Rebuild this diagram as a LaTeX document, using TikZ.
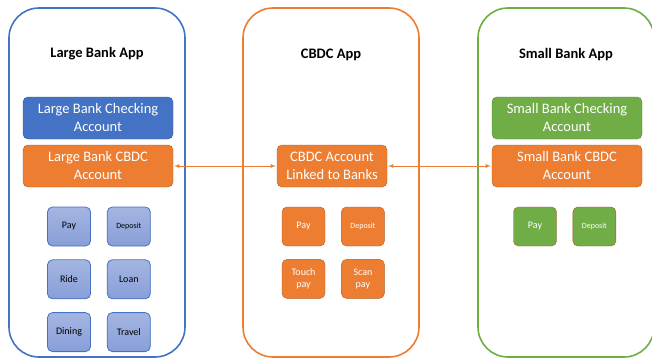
\documentclass[tikz,border=0pt]{standalone}
\usepackage{fontspec}
\setmainfont{Carlito}
\usetikzlibrary{positioning}
\definecolor{appblue}{HTML}{4472C4}
\definecolor{apporange}{HTML}{ED7D31}
\definecolor{appgreen}{HTML}{70AD47}
\definecolor{btnblue}{HTML}{8FA3DA}
\tikzset{
    app/.style={draw, line width=1.6pt, rounded corners=30pt, minimum width=176pt, minimum height=349pt},
    title/.style={font=\fontsize{14.5}{16}\selectfont\bfseries},
    acct/.style={rounded corners=5pt, minimum width=150pt, minimum height=42pt, text=white, align=center, font=\fontsize{14.5}{18}\selectfont},
    btn/.style={rounded corners=5pt, minimum width=43pt, minimum height=39pt, align=center, font=\fontsize{10}{11.5}\selectfont},
    bluebtn/.style={btn, draw=appblue, line width=0.8pt, top color=btnblue!80!white, bottom color=btnblue!90!appblue},
    link/.style={<->, >=latex, apporange, line width=0.8pt, shorten <=1pt, shorten >=1pt}
}

\begin{document}
\begin{tikzpicture}[x=1pt, y=-1pt, node distance=13pt and 16pt]
    \useasboundingbox (0,0) rectangle (652,359);

    % containers
    \node[app, draw=appblue] (large) at (97,182.5) {};
    \node[app, draw=apporange] (cbdc) at (331,182.5) {};
    \node[app, draw=appgreen] (small) at (566,182.5) {};

    \node[title] (ltitle) at (97,54) {Large Bank App};
    \node[title] (mtitle) at (331,55) {CBDC App};
    \node[title] (rtitle) at (566,55) {Small Bank App};

    % accounts
    \node[acct, fill=appblue, draw=appblue!75!black] (lchk) at (98,118) {Large Bank Checking\\Account};
    \node[acct, fill=apporange, draw=apporange!75!black] (lcbdc) at (98,166) {Large Bank CBDC\\Account};
    \node[acct, fill=apporange, draw=apporange!75!black, minimum width=110pt] (mcbdc) at (332,166) {CBDC Account\\Linked to Banks};
    \node[acct, fill=appgreen, draw=appgreen!75!black] (rchk) at (567,118) {Small Bank Checking\\Account};
    \node[acct, fill=apporange, draw=apporange!75!black] (rcbdc) at (567,166) {Small Bank CBDC\\Account};

    % large bank buttons
    \node[bluebtn] (lpay) at (69,226.5) {Pay};
    \node[bluebtn, right=of lpay, font=\fontsize{8}{9.5}\selectfont] (ldep) {Deposit};
    \node[bluebtn, below=of lpay] (lride) {Ride};
    \node[bluebtn, right=of lride] (lloan) {Loan};
    \node[bluebtn, below=of lride] (ldine) {Dining};
    \node[bluebtn, right=of ldine] (ltravel) {Travel};

    % cbdc buttons
    \node[btn, fill=apporange, draw=apporange!75!black, text=white] (mpay) at (303.5,226.5) {Pay};
    \node[btn, fill=apporange, draw=apporange!75!black, text=white, right=of mpay, font=\fontsize{8}{9.5}\selectfont] (mdep) {Deposit};
    \node[btn, fill=apporange, draw=apporange!75!black, text=white, below=of mpay] (mtouch) {Touch\\pay};
    \node[btn, fill=apporange, draw=apporange!75!black, text=white, right=of mtouch] (mscan) {Scan\\pay};

    % small bank buttons
    \node[btn, fill=appgreen, draw=apporange!70!black, text=white] (rpay) at (535,226.5) {Pay};
    \node[btn, fill=appgreen, draw=apporange!70!black, text=white, right=of rpay, font=\fontsize{8}{9.5}\selectfont] (rdep) {Deposit};

    \draw[link] (lcbdc) -- (mcbdc);
    \draw[link] (mcbdc) -- (rcbdc);
\end{tikzpicture}
\end{document}
